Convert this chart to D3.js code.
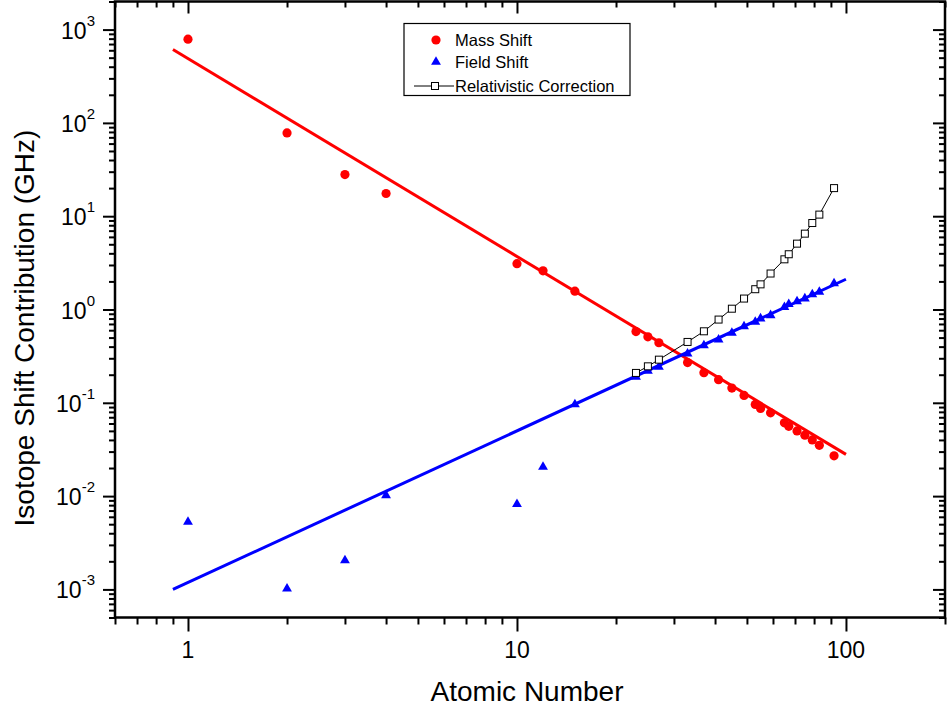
<!DOCTYPE html>
<html>
<head>
<meta charset="utf-8">
<script src="https://cdn.jsdelivr.net/npm/d3@7"></script>
<style>
  html, body { margin: 0; padding: 0; background: #fff; }
  svg { display: block; }
  text { font-family: Arial, "Liberation Sans", sans-serif; fill: #000; }
</style>
</head>
<body>
<svg id="chart" width="947" height="716"></svg>
<script>
// ---------- data ----------
const massZ = [1, 2, 3, 4, 10, 12, 15, 23, 25, 27, 33, 37, 41, 45, 49, 53, 55, 59, 65, 67, 71, 75, 79, 83, 92];
const massShift = [790, 78, 27.9, 17.5, 3.1, 2.6, 1.57, 0.58, 0.51, 0.44, 0.27, 0.21, 0.177, 0.144, 0.12, 0.096, 0.087, 0.078, 0.061, 0.056, 0.05, 0.045, 0.04, 0.035, 0.027];
const fieldZ = [1, 2, 3, 4, 10, 12, 15, 23, 25, 27, 33, 37, 41, 45, 49, 53, 55, 59, 65, 67, 71, 75, 79, 83, 92];
const fieldShift = [0.0053, 0.00102, 0.00205, 0.0102, 0.0082, 0.0205, 0.096, 0.19, 0.22, 0.242, 0.337, 0.413, 0.475, 0.56, 0.66, 0.734, 0.80, 0.867, 1.06, 1.14, 1.22, 1.31, 1.45, 1.54, 1.90];
const relZ = [23, 25, 27, 33, 37, 41, 45, 49, 53, 55, 59, 65, 67, 71, 75, 79, 83, 92];
const relCorr = [0.209, 0.246, 0.290, 0.449, 0.584, 0.78, 1.02, 1.31, 1.65, 1.86, 2.43, 3.45, 3.91, 5.08, 6.5, 8.45, 10.4, 20.0];
const fitZ = [0.9, 100];
const massFit = [611, 0.028];
const fieldFit = [0.001, 2.11];

const xMajor = [1, 10, 100];
const xMajorLabels = ["1", "10", "100"];
const yMajorExp = [-3, -2, -1, 0, 1, 2, 3];
const legendLabels = ["Mass Shift", "Field Shift", "Relativistic Correction"];

// ---------- layout ----------
const svg = d3.select("#chart");
const L = 115, R = 945, T = 1.5, B = 617.5;
const x = d3.scaleLog().domain([0.6, 200]).range([L, R]);
const y = d3.scaleLog().domain([5e-4, 2000]).range([B, T]);

const xMinor = [];
[0.1, 1, 10, 100].forEach(d => { for (let k = 2; k <= 9; k++) { const v = +(k * d).toPrecision(3); if (v >= 0.6 && v <= 200) xMinor.push(v); } });
const yMajor = yMajorExp.map(e => Math.pow(10, e));
const yMinor = [];
[1e-4, 1e-3, 1e-2, 1e-1, 1, 10, 100, 1000].forEach(d => { for (let k = 2; k <= 9; k++) { const v = +(k * d).toPrecision(3); if (v >= 5e-4 && v <= 2000) yMinor.push(v); } });

function styleAxis(g) {
  g.select(".domain").remove();
  g.selectAll(".tick line").attr("stroke", "#000").attr("stroke-width", 2);
  g.selectAll(".tick text").remove();
}
// bottom (outward)
svg.append("g").attr("transform", `translate(0,${B})`).call(d3.axisBottom(x).tickValues(xMinor).tickSize(7).tickFormat("")).call(styleAxis);
svg.append("g").attr("transform", `translate(0,${B})`).call(d3.axisBottom(x).tickValues(xMajor).tickSize(14).tickFormat("")).call(styleAxis);
// top (inward)
svg.append("g").attr("transform", `translate(0,${T})`).call(d3.axisTop(x).tickValues(xMinor).tickSize(-6).tickFormat("")).call(styleAxis);
svg.append("g").attr("transform", `translate(0,${T})`).call(d3.axisTop(x).tickValues(xMajor).tickSize(-12).tickFormat("")).call(styleAxis);
// left (outward)
svg.append("g").attr("transform", `translate(${L},0)`).call(d3.axisLeft(y).tickValues(yMinor).tickSize(6).tickFormat("")).call(styleAxis);
svg.append("g").attr("transform", `translate(${L},0)`).call(d3.axisLeft(y).tickValues(yMajor).tickSize(12).tickFormat("")).call(styleAxis);
// right (inward)
svg.append("g").attr("transform", `translate(${R},0)`).call(d3.axisRight(y).tickValues(yMinor).tickSize(-6).tickFormat("")).call(styleAxis);
svg.append("g").attr("transform", `translate(${R},0)`).call(d3.axisRight(y).tickValues(yMajor).tickSize(-12).tickFormat("")).call(styleAxis);

// frame
svg.append("rect").attr("x", L).attr("y", T).attr("width", R - L).attr("height", B - T)
  .attr("fill", "none").attr("stroke", "#000").attr("stroke-width", 2.5);

// x tick labels
svg.selectAll(".xlab").data(xMajor).enter().append("text")
  .attr("x", d => x(d)).attr("y", 658).attr("text-anchor", "middle")
  .attr("font-size", 23).text((d, i) => xMajorLabels[i]);

// y tick labels with superscript
yMajorExp.forEach(e => {
  const t = svg.append("text").attr("x", 95).attr("y", y(Math.pow(10, e)) + 9)
    .attr("text-anchor", "end").attr("font-size", 23);
  t.append("tspan").text("10");
  t.append("tspan").attr("dy", -13).attr("font-size", 15).text(String(e));
});

// axis titles
svg.append("text").attr("x", 527).attr("y", 701).attr("text-anchor", "middle")
  .attr("font-size", 28).text("Atomic Number");
svg.append("text").attr("transform", "translate(34,328) rotate(-90)").attr("text-anchor", "middle")
  .attr("font-size", 28).text("Isotope Shift Contribution (GHz)");

// clip
svg.append("clipPath").attr("id", "clip").append("rect").attr("x", L).attr("y", T).attr("width", R - L).attr("height", B - T);
const plot = svg.append("g").attr("clip-path", "url(#clip)");

const line = d3.line().x(d => x(d[0])).y(d => y(d[1]));

// fit lines
plot.append("path").datum(fitZ.map((z, i) => [z, massFit[i]])).attr("d", line)
  .attr("stroke", "#ff0000").attr("stroke-width", 3).attr("fill", "none");
plot.append("path").datum(fitZ.map((z, i) => [z, fieldFit[i]])).attr("d", line)
  .attr("stroke", "#0000ff").attr("stroke-width", 3).attr("fill", "none");

// mass shift points
plot.selectAll(".mass").data(massZ.map((z, i) => [z, massShift[i]])).enter().append("circle")
  .attr("cx", d => x(d[0])).attr("cy", d => y(d[1])).attr("r", 4.6).attr("fill", "#ff0000");

// field shift triangles
const tri = d3.symbol().type(d3.symbolTriangle).size(42);
plot.selectAll(".field").data(fieldZ.map((z, i) => [z, fieldShift[i]])).enter().append("path")
  .attr("d", tri).attr("transform", d => `translate(${x(d[0])},${y(d[1])})`).attr("fill", "#0000ff");

// relativistic correction
plot.append("path").datum(relZ.map((z, i) => [z, relCorr[i]])).attr("d", line)
  .attr("stroke", "#000").attr("stroke-width", 1).attr("fill", "none");
plot.selectAll(".rel").data(relZ.map((z, i) => [z, relCorr[i]])).enter().append("rect")
  .attr("x", d => x(d[0]) - 3.5).attr("y", d => y(d[1]) - 3.5).attr("width", 7).attr("height", 7)
  .attr("fill", "#fff").attr("stroke", "#000").attr("stroke-width", 1);

// legend
const lg = svg.append("g");
lg.append("rect").attr("x", 404).attr("y", 23.5).attr("width", 226).attr("height", 72)
  .attr("fill", "#fff").attr("stroke", "#000").attr("stroke-width", 1.2);
lg.append("circle").attr("cx", 436).attr("cy", 40).attr("r", 4.6).attr("fill", "#ff0000");
lg.append("path").attr("d", tri).attr("transform", "translate(436,62)").attr("fill", "#0000ff");
lg.append("line").attr("x1", 414).attr("x2", 454).attr("y1", 86).attr("y2", 86).attr("stroke", "#000").attr("stroke-width", 1);
lg.append("rect").attr("x", 431.5).attr("y", 82.5).attr("width", 7).attr("height", 7).attr("fill", "#fff").attr("stroke", "#000").attr("stroke-width", 1);
[46, 68, 92].forEach((by, i) => {
  lg.append("text").attr("x", 455).attr("y", by).attr("font-size", 16.5).text(legendLabels[i]);
});
</script>
</body>
</html>
